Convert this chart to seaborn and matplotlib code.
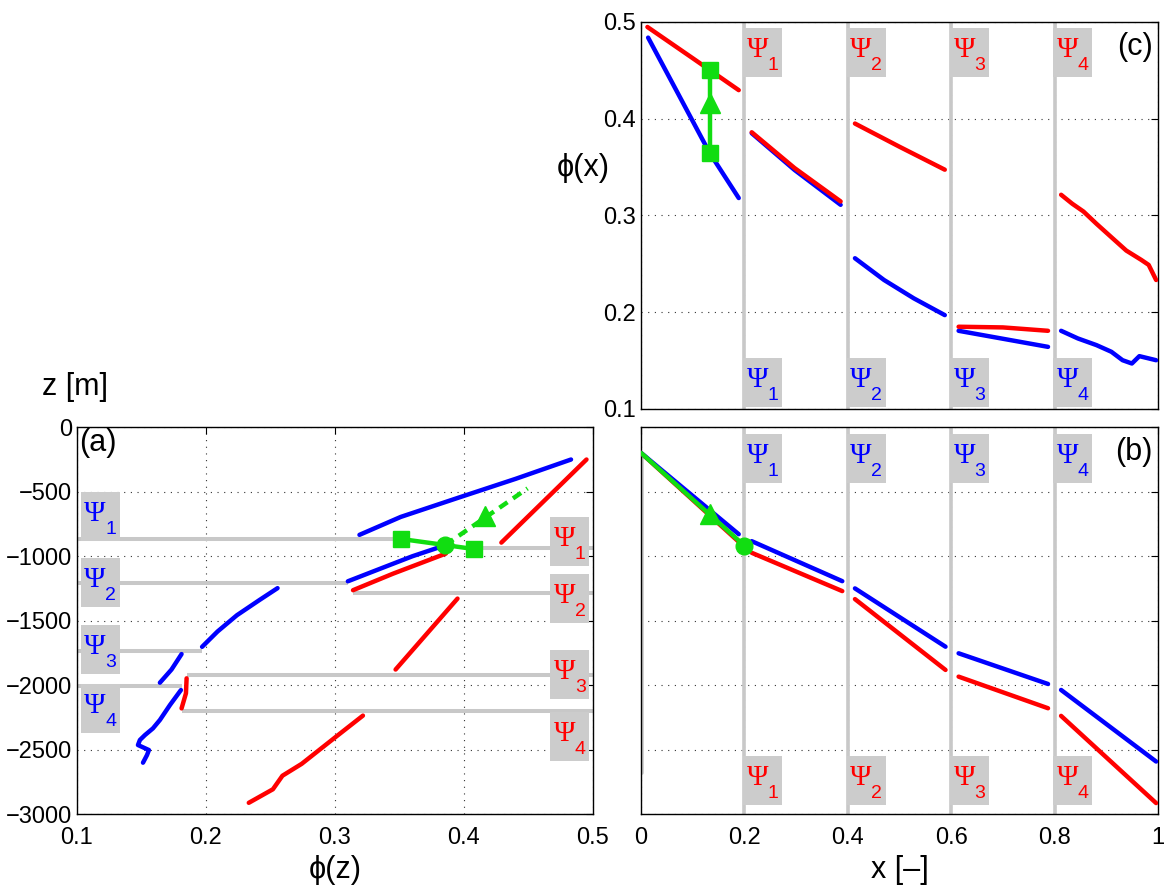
import numpy as np
import pandas as pd
import seaborn as sns
import matplotlib.pyplot as plt
from matplotlib.patches import Rectangle
from matplotlib.transforms import ScaledTranslation

BLUE = '#0000ff'
RED = '#ff0000'
GREEN = '#11dd11'
GREY = '#c8c8c8'

# ---- panel (a): porosity vs depth, one piece per layer
a_blue_phi = [[0.319, 0.351, 0.396, 0.440, 0.483],
              [0.310, 0.337, 0.360, 0.386],
              [0.197, 0.209, 0.224, 0.2415, 0.2555],
              [0.1643, 0.1733, 0.1811],
              [0.1806, 0.1721, 0.1643, 0.1589, 0.1527, 0.1488, 0.1473, 0.1558, 0.1543, 0.1512]]
a_blue_z = [[-836, -697, -547, -402, -252],
            [-1196, -1091, -1002, -915],
            [-1704, -1585, -1459, -1341, -1249],
            [-1982, -1880, -1760],
            [-2039, -2155, -2271, -2336, -2388, -2426, -2465, -2504, -2543, -2602]]
a_red_phi = [[0.429, 0.462, 0.495],
             [0.314, 0.345, 0.386],
             [0.347, 0.371, 0.395],
             [0.1811, 0.1845, 0.185],
             [0.2332, 0.2519, 0.2593, 0.2742, 0.3009, 0.3217]]
a_red_z = [[-896, -574, -252],
           [-1265, -1137, -981],
           [-1880, -1605, -1330],
           [-2181, -2064, -1948],
           [-2913, -2808, -2703, -2611, -2400, -2237]]
# layer interfaces (blue: left edge -> end, red: start -> right edge)
a_blue_level_z = [-868, -1212, -1734, -2005]
a_blue_level_end = [0.351, 0.310, 0.1966, 0.1811]
a_red_level_z = [-941, -1288, -1922, -2199]
a_red_level_start = [0.4077, 0.314, 0.185, 0.1811]
# green construction
a_sq_phi = [0.3513, 0.4077]
a_sq_z = [-868, -946]
a_circ = (0.3855, -915)
a_dash_phi = [0.3855, 0.4493]
a_dash_z = [-915, -476]
a_tri = (0.416, -686)

# ---- panel (b): depth along x
b_blue_x = [[0, 0.189], [0.2141, 0.3893], [0.4138, 0.589], [0.6143, 0.7873], [0.8125, 0.9964]]
b_blue_z = [[-201, -831], [-885, -1195], [-1251, -1703], [-1754, -1992], [-2038, -2593]]
b_red_x = [[0, 0.189], [0.2141, 0.3893], [0.4138, 0.589], [0.6143, 0.7873], [0.8125, 0.9964]]
b_red_z = [[-201, -890], [-975, -1272], [-1334, -1883], [-1935, -2180], [-2239, -2915]]
b_green_x = [0, 0.2]
b_green_z = [-201, -920]
b_tri = (0.1327, -671)

# ---- panel (c): porosity along x
c_blue_x = [[0.0137, 0.07, 0.1327, 0.189],
            [0.2141, 0.297, 0.3861],
            [0.4138, 0.4701, 0.5278, 0.5876],
            [0.6143, 0.7873],
            [0.8126, 0.845, 0.881, 0.9099, 0.9315, 0.9495, 0.964, 0.9748, 0.9964]]
c_blue_phi = [[0.4838, 0.4275, 0.3646, 0.318],
              [0.385, 0.347, 0.311],
              [0.2558, 0.2333, 0.2143, 0.197],
              [0.1808, 0.1642],
              [0.1808, 0.1729, 0.1660, 0.1591, 0.1504, 0.1470, 0.1546, 0.1532, 0.1504]]
c_red_x = [[0.0123, 0.10, 0.189],
           [0.2141, 0.297, 0.3861],
           [0.4138, 0.50, 0.5876],
           [0.6143, 0.70, 0.7873],
           [0.8126, 0.8342, 0.8558, 0.881, 0.9099, 0.9387, 0.9676, 0.982, 0.9964]]
c_red_phi = [[0.4948, 0.4625, 0.4295],
             [0.386, 0.349, 0.3145],
             [0.395, 0.371, 0.3473],
             [0.185, 0.1843, 0.1808],
             [0.3214, 0.3121, 0.3041, 0.2914, 0.2775, 0.2637, 0.2541, 0.2489, 0.2333]]
c_green_x = 0.1327
c_sq_phi = [0.3646, 0.4499]
c_tri_phi = 0.4164

layer_x = [0.2, 0.4, 0.6, 0.8]
layer_names = ['1', '2', '3', '4']

sns.set_theme(style='white')
plt.rcParams['font.family'] = ['Liberation Sans', 'DejaVu Sans']
plt.rcParams['axes.edgecolor'] = 'black'
plt.rcParams['axes.linewidth'] = 1.0
plt.rcParams['text.color'] = 'black'
plt.rcParams['xtick.color'] = 'black'
plt.rcParams['ytick.color'] = 'black'

fig = plt.figure(figsize=(11.73, 8.92), dpi=100)
H = 0.4339
ax_a = fig.add_axes([0.0656, 0.0874, 0.4399, H])
ax_b = fig.add_axes([0.5465, 0.0874, 0.4407, H])
ax_c = fig.add_axes([0.5465, 0.5415, 0.4407, H])

LW = 3.2


def seg(ax, xs, ys, color, z=3):
    sns.lineplot(x=xs, y=ys, sort=False, estimator=None, color=color, lw=LW, ax=ax, zorder=z)


def psi_box(ax, x0, y0, k, color):
    tr = fig.dpi_scale_trans + ScaledTranslation(x0, y0, ax.transData)
    ax.add_patch(Rectangle((0, -0.49), 0.39, 0.49, transform=tr, facecolor='#cccccc',
                           edgecolor='none', zorder=6, clip_on=False))
    ax.text(0.035, -0.29, 'Ψ', transform=tr, fontsize=21, family='Liberation Serif',
            color=color, va='baseline', ha='left', zorder=7)
    ax.text(0.245, -0.42, k, transform=tr, fontsize=14, color=color,
            va='baseline', ha='left', zorder=7)


def style(ax):
    ax.grid(True, linestyle=(0, (1, 5)), color='#333333', lw=0.8)
    ax.tick_params(direction='in', length=5, width=0.8, top=True, right=True,
                   labelsize=17, colors='black', pad=3.5)
    ax.tick_params(axis='x', pad=9)
    for s in ax.spines.values():
        s.set_visible(True)
        s.set_color('black')


# ---------- (a)
ax = ax_a
ax.set_xlim(0.1, 0.5)
ax.set_ylim(-3000, 0)
ax.set_xticks([0.1, 0.2, 0.3, 0.4, 0.5])
ax.set_yticks(np.arange(-3000, 1, 500))
style(ax)
for zl, xe in zip(a_blue_level_z, a_blue_level_end):
    ax.plot([0.1, xe], [zl, zl], color=GREY, lw=2.9, zorder=2, solid_capstyle='butt')
for zl, xs in zip(a_red_level_z, a_red_level_start):
    ax.plot([xs, 0.5], [zl, zl], color=GREY, lw=2.9, zorder=2, solid_capstyle='butt')
for xs, ys in zip(a_blue_phi, a_blue_z):
    seg(ax, xs, ys, BLUE)
for xs, ys in zip(a_red_phi, a_red_z):
    seg(ax, xs, ys, RED)
ax.plot(a_dash_phi, a_dash_z, color=GREEN, lw=LW, dashes=(2.2, 1.5), zorder=4)
ax.plot([a_sq_phi[0], a_circ[0], a_sq_phi[1]], [a_sq_z[0], a_circ[1], a_sq_z[1]],
        color=GREEN, lw=LW, zorder=4)
ax.plot(a_sq_phi, a_sq_z, 's', color=GREEN, ms=11, zorder=5)
ax.plot(*a_circ, 'o', color=GREEN, ms=12, zorder=5)
ax.plot(*a_tri, '^', color=GREEN, ms=14, zorder=5)
for k, zt in zip(layer_names, [-500, -1012, -1533, -1993]):
    psi_box(ax, 0.103, zt, k, BLUE)
for k, zt in zip(layer_names, [-697, -1138, -1725, -2211]):
    psi_box(ax, 0.467, zt, k, RED)
ax.text(0.004, 0.997, '(a)', transform=ax.transAxes, fontsize=22, va='top', ha='left')

# ---------- (b)
ax = ax_b
ax.set_xlim(0, 1)
ax.set_ylim(-3000, 0)
ax.set_xticks([0, 0.2, 0.4, 0.6, 0.8, 1])
ax.set_xticklabels(['0', '0.2', '0.4', '0.6', '0.8', '1'])
ax.set_yticks(np.arange(-3000, 1, 500))
ax.set_yticklabels([])
style(ax)
ax.plot([0.002, 0.002], [-206, -2683], color=GREY, lw=2.6, zorder=2)
for xl in layer_x:
    ax.plot([xl, xl], [-3000, 0], color=GREY, lw=2.6, zorder=2)
for xs, ys in zip(b_red_x, b_red_z):
    seg(ax, xs, ys, RED)
for xs, ys in zip(b_blue_x, b_blue_z):
    seg(ax, xs, ys, BLUE)
ax.plot(b_green_x, b_green_z, color=GREEN, lw=LW, zorder=4)
ax.plot(b_green_x[1], b_green_z[1], 'o', color=GREEN, ms=12, zorder=5)
ax.plot(*b_tri, '^', color=GREEN, ms=14, zorder=5)
for k, xl in zip(layer_names, layer_x):
    psi_box(ax, xl - 0.0025, -52, k, BLUE)
    psi_box(ax, xl - 0.0025, -2549, k, RED)
ax.text(0.99, 0.975, '(b)', transform=ax.transAxes, fontsize=22, va='top', ha='right')

# ---------- (c)
ax = ax_c
ax.set_xlim(0, 1)
ax.set_ylim(0.1, 0.5)
ax.set_xticks([0, 0.2, 0.4, 0.6, 0.8, 1])
ax.set_xticklabels([])
ax.set_yticks([0.1, 0.2, 0.3, 0.4, 0.5])
style(ax)
for xl in layer_x:
    ax.plot([xl, xl], [0.1, 0.5], color=GREY, lw=2.6, zorder=2)
for xs, ys in zip(c_blue_x, c_blue_phi):
    seg(ax, xs, ys, BLUE)
for xs, ys in zip(c_red_x, c_red_phi):
    seg(ax, xs, ys, RED)
ax.plot([c_green_x, c_green_x], c_sq_phi, color=GREEN, lw=LW, zorder=4)
ax.plot([c_green_x] * 2, c_sq_phi, 's', color=GREEN, ms=11, zorder=5)
ax.plot(c_green_x, c_tri_phi, '^', color=GREEN, ms=14, zorder=5)
for k, xl in zip(layer_names, layer_x):
    psi_box(ax, xl - 0.0025, 0.4941, k, RED)
    psi_box(ax, xl - 0.0025, 0.1532, k, BLUE)
ax.text(0.99, 0.975, '(c)', transform=ax.transAxes, fontsize=22, va='top', ha='right')

# axis titles
fig.text(42 / 1173, 1 - 387 / 892, 'z [m]', fontsize=22, ha='left', va='center')
fig.text(335 / 1173, 1 - 870 / 892, 'ϕ(z)', fontsize=22, ha='center', va='center')
fig.text(900 / 1173, 1 - 870 / 892, 'x [–]', fontsize=22, ha='center', va='center')
fig.text(610 / 1173, 1 - 168 / 892, 'ϕ(x)', fontsize=22, ha='right', va='center')

fig.savefig('out.png', dpi=100)
